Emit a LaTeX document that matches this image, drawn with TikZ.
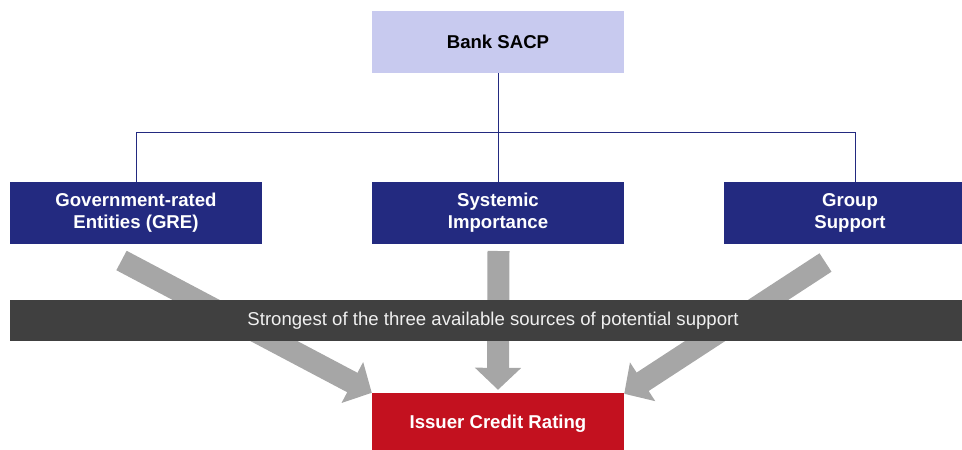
\documentclass[tikz,border=0pt]{standalone}
\usepackage{fontspec}
\setmainfont{Liberation Sans}
\usetikzlibrary{arrows.meta}
\definecolor{lav}{HTML}{C8CAEF}
\definecolor{navy}{HTML}{232A80}
\definecolor{barc}{HTML}{404040}
\definecolor{arrc}{HTML}{A6A6A6}
\definecolor{redc}{HTML}{C3111F}
\tikzset{
  box/.style={rectangle, minimum width=252pt, minimum height=62pt, inner sep=0pt, align=center,
    font=\fontsize{18.6}{22}\selectfont\bfseries},
  topbox/.style={box, fill=lav, text=black},
  midbox/.style={box, fill=navy, text=white},
  redbox/.style={box, fill=redc, text=white},
  link/.style={draw=navy, line width=1pt},
  fat/.style={draw=arrc, line width=22pt, -{Triangle[width=45pt,length=22pt]}},
}
\begin{document}
\begin{tikzpicture}[x=1pt,y=-1pt]
\useasboundingbox (0,0) rectangle (962,450);
\clip (0,0) rectangle (962,450);
\node[topbox] (sacp) at (498,42) {Bank SACP};
\node[midbox] (gre) at (136,213) {Government-rated\\Entities (GRE)};
\node[midbox] (sys) at (498,213) {Systemic\\Importance};
\node[midbox] (grp) at (850,213) {Group\\Support};
\node[redbox] (icr) at (498,424) {Issuer Credit Rating};
\coordinate (hub) at (498,132);
\coordinate (hl) at (136,132);
\coordinate (hr) at (855,132);
\draw[link] (sacp.south) -- (hub);
\draw[link] (hl) -- (hr);
\draw[link] (hl) -- (gre.north);
\draw[link] (hub) -- (sys.north);
\draw[link] (hr) -- (hr |- grp.north);
\coordinate (sl) at (121.5,260.5);
\coordinate (sm) at (498.5,251);
\coordinate (sr) at (825.5,262.5);
\draw[fat] (sl) -- (icr.north west);
\draw[fat] (sm) -- ([yshift=3pt]icr.north);
\draw[fat] (sr) -- ([yshift=-1pt]icr.north east);
\node[fill=barc, minimum width=966pt, minimum height=41pt, inner sep=0pt, text={rgb,255:red,240;green,240;blue,240},
  font=\fontsize{18.6}{21}\selectfont] (bar) at (493,320.5) {\raisebox{-2pt}{Strongest of the three available sources of potential support}};
\end{tikzpicture}
\end{document}
